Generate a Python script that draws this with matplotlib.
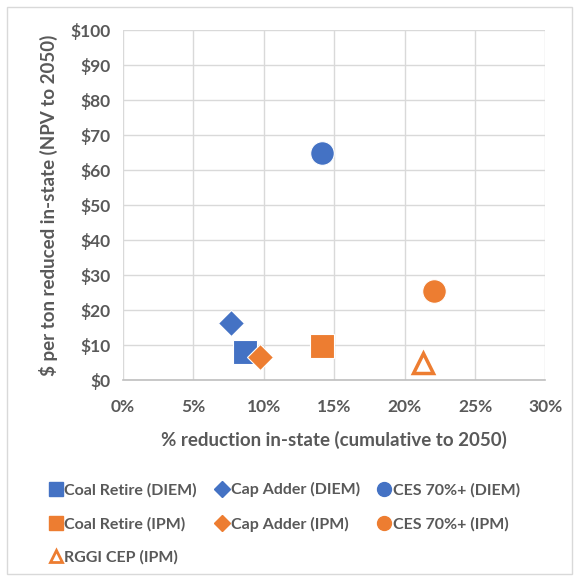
import matplotlib
matplotlib.use("Agg")
import matplotlib.pyplot as plt
from matplotlib.lines import Line2D
from matplotlib.patches import Rectangle
from matplotlib.ticker import FuncFormatter

plt.rcParams['font.family'] = ['Lato', 'DejaVu Sans']

series_names = ["Coal Retire (DIEM)", "Cap Adder (DIEM)", "CES 70%+ (DIEM)",
                "Coal Retire (IPM)", "Cap Adder (IPM)", "CES 70%+ (IPM)",
                "RGGI CEP (IPM)"]
x_pct = [8.7, 7.7, 14.1, 14.1, 9.7, 22.1, 21.3]
y_cost = [8.1, 16.4, 65.0, 9.7, 6.7, 25.5, 5.0]

BLUE = "#4472C4"
ORANGE = "#ED7D31"
colors = [BLUE, BLUE, BLUE, ORANGE, ORANGE, ORANGE, ORANGE]
markers = ["s", "D", "o", "s", "D", "o", "^"]
sizes = [17, 13, 17, 17, 13, 17, 14]
filled = [True, True, True, True, True, True, False]

TXT = "#595959"

fig = plt.figure(figsize=(5.79, 5.77), dpi=100)
ax = fig.add_axes([0.2124, 0.3414, 0.7296, 0.6066])

for name, xv, yv, c, m, s, f in zip(series_names, x_pct, y_cost, colors, markers, sizes, filled):
    if f:
        ax.plot([xv], [yv], linestyle='none', marker=m, markersize=s,
                markerfacecolor=c, markeredgecolor='white', markeredgewidth=0.8,
                zorder=3)
    else:
        ax.plot([xv], [yv], linestyle='none', marker=m, markersize=s,
                markerfacecolor='white', markeredgecolor=c, markeredgewidth=2.5,
                zorder=3)

ax.set_xlim(0, 30)
ax.set_ylim(0, 100)
ax.set_xticks(range(0, 31, 5))
ax.set_yticks(range(0, 101, 10))
ax.xaxis.set_major_formatter(FuncFormatter(lambda v, p: f"{int(v)}%"))
ax.yaxis.set_major_formatter(FuncFormatter(lambda v, p: f"${int(v)}"))
ax.grid(True, color="#D9D9D9", linewidth=1.0, zorder=0)
ax.set_axisbelow(True)
for side in ["top", "right", "left"]:
    ax.spines[side].set_visible(False)
ax.spines["bottom"].set_color("#BFBFBF")
ax.spines["bottom"].set_linewidth(1.2)
ax.tick_params(axis='y', length=0, labelsize=12.5, labelcolor=TXT, pad=9)
ax.tick_params(axis='x', length=0, labelsize=12.5, labelcolor=TXT, pad=14)
for lbl in ax.get_xticklabels() + ax.get_yticklabels():
    lbl.set_fontweight('bold')

ax.set_xlabel("% reduction in-state (cumulative to 2050)", fontsize=13.5,
              fontweight='bold', color=TXT, labelpad=11)
ax.set_ylabel("$ per ton reduced in-state (NPV to 2050)", fontsize=13.5,
              fontweight='bold', color=TXT, labelpad=9)

# legend (column-major ordering so rows read left to right)
order = ["Coal Retire (DIEM)", "Coal Retire (IPM)", "RGGI CEP (IPM)",
         "Cap Adder (DIEM)", "Cap Adder (IPM)",
         "CES 70%+ (DIEM)", "CES 70%+ (IPM)"]
leg_handles = []
for name in order:
    i = series_names.index(name)
    if filled[i]:
        lh = Line2D([], [], linestyle='none', marker=markers[i],
                    markersize=10 if markers[i] != 'D' else 8,
                    markerfacecolor=colors[i], markeredgecolor=colors[i])
    else:
        lh = Line2D([], [], linestyle='none', marker=markers[i], markersize=8,
                    markerfacecolor='white', markeredgecolor=colors[i], markeredgewidth=2)
    leg_handles.append(lh)
leg = fig.legend(leg_handles, order, ncol=3, loc='upper left',
                 bbox_to_anchor=(0.074, 0.175), frameon=False,
                 prop={'size': 11.5, 'weight': 'bold'},
                 handlelength=0.8, handletextpad=0.15, columnspacing=1.15,
                 labelspacing=1.2, borderaxespad=0)
for t in leg.get_texts():
    t.set_color(TXT)

fig.patches.append(Rectangle((0.012, 0.005), 0.976, 0.983, transform=fig.transFigure,
                             fill=False, edgecolor="#D9D9D9", linewidth=1.0))

fig.savefig("out.png", dpi=100)
